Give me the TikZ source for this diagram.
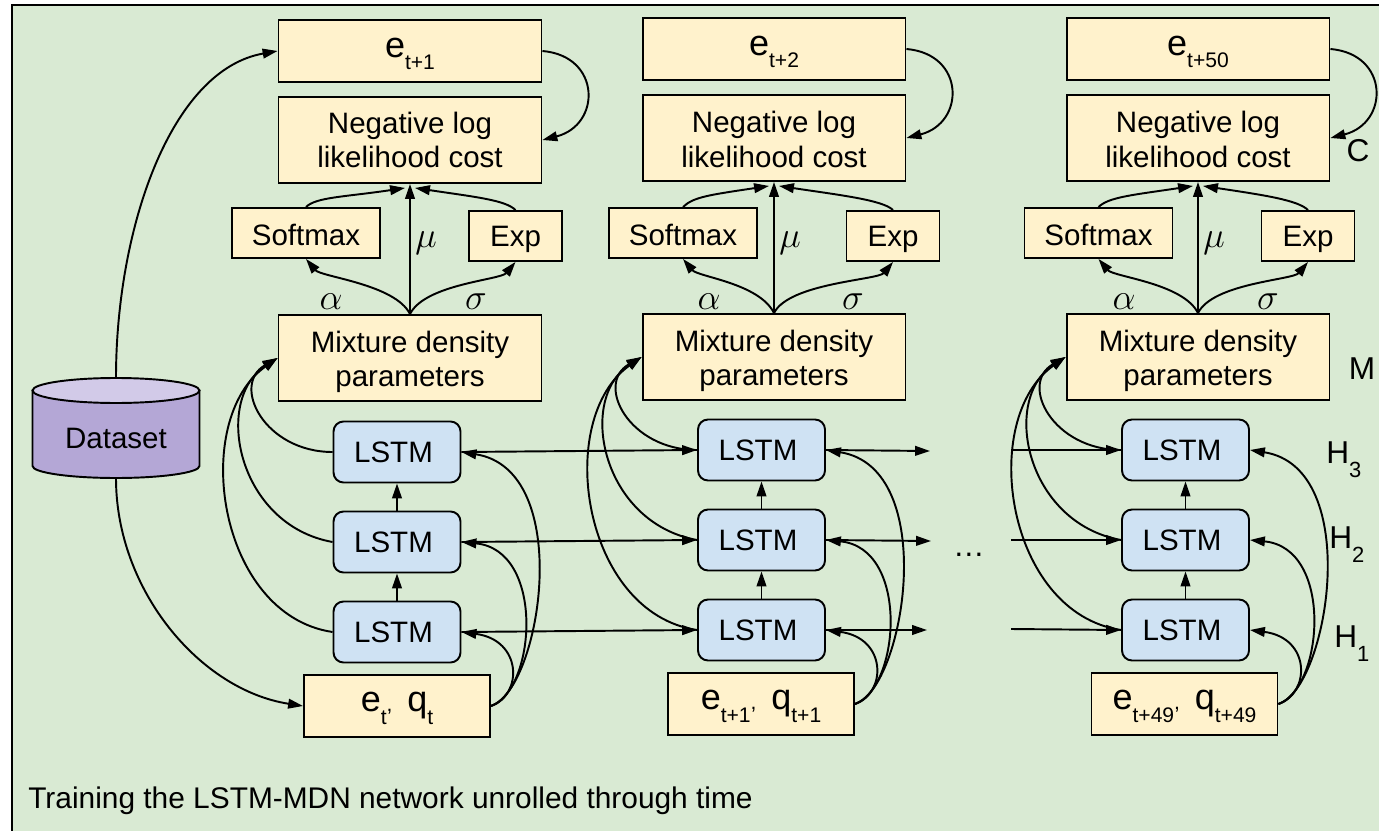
\documentclass[tikz,border=0pt]{standalone}
\usepackage{fontspec}
\setmainfont{Liberation Sans}
\usetikzlibrary{arrows.meta}
\definecolor{panelgreen}{HTML}{D9EAD3}
\definecolor{boxyellow}{HTML}{FFF2CC}
\definecolor{lstmblue}{HTML}{CFE2F3}
\definecolor{dbside}{HTML}{B4A7D6}
\definecolor{dbtop}{HTML}{D2CAE8}
\newcommand{\lab}[2]{{\fontsize{20.5}{24}\selectfont #1\raisebox{-7pt}[0pt][3.5pt]{\fontsize{12}{14}\selectfont #2}}}
\newcommand{\labcomma}{{\fontsize{12}{14}\selectfont ,}\hspace{0.5em}}
\newcommand{\hlab}[1]{{\fontsize{18}{20}\selectfont H\raisebox{-8pt}[0pt][0pt]{\fontsize{12.5}{14}\selectfont #1}}}
\newcommand{\dropline}[1]{\rule{0pt}{#1}}
\newcommand{\lstm}{LSTM\hspace*{4pt}}
\tikzset{
    plainbox/.style={draw=black, line width=1.1pt, fill=boxyellow, inner sep=0pt, align=center, font=\fontsize{16.8}{19.6}\selectfont},
    topbox/.style={plainbox, minimum width=5.26cm, minimum height=1.24cm},
    costbox/.style={plainbox, minimum width=5.26cm, minimum height=1.72cm},
    softbox/.style={plainbox, minimum width=2.96cm, minimum height=1cm},
    expbox/.style={plainbox, minimum width=1.86cm, minimum height=1cm},
    inbox/.style={plainbox, minimum width=3.72cm, minimum height=1.24cm},
    lstmbox/.style={plainbox, fill=lstmblue, rounded corners=0.2cm, minimum width=2.54cm, minimum height=1.22cm},
    sidelabel/.style={inner sep=0pt, font=\fontsize{18}{20}\selectfont},
    greeklabel/.style={inner sep=0pt, font=\fontsize{20}{22}\selectfont},
    flow/.style={line width=1.1pt, -{Triangle[length=8.5pt,width=5.5pt]}}
}
\begin{document}
\begin{tikzpicture}[x=0.02cm,y=-0.02cm]
    \useasboundingbox (0,0) rectangle (1379,831);
    \fill[panelgreen] (12,5) rectangle (1379,831);
    \draw[line width=1.3pt] (12,831) -- (12,5) -- (1379,5);

    \node[minimum width=3.34cm, minimum height=2cm, inner sep=0pt] (db) at (116,428) {};
    \filldraw[fill=dbside, line width=1.1pt] (32.5,390.5) -- (32.5,466) arc[start angle=180, end angle=0, x radius=83.5, y radius=12] -- (199.5,390.5) -- cycle;
    \filldraw[fill=dbtop, line width=1.1pt] (116,390.5) ellipse [x radius=83.5, y radius=12.5];
    \node[inner sep=0pt, font=\fontsize{16.8}{19.6}\selectfont] (dbtext) at (116,438) {Dataset};

    \node[topbox] (targetA) at (410,51) {\lab{e}{t+1}};
    \node[costbox] (costA) at (410,140) {Negative log\\likelihood cost};
    \node[softbox] (softA) at (306,233) {\dropline{14pt}Softmax};
    \node[expbox] (expA) at (515.5,236) {\dropline{15pt}Exp};
    \node[costbox] (mdnA) at (410,358) {\dropline{16.5pt}Mixture density\\parameters};
    \node[lstmbox] (topA) at (397,452) {\lstm};
    \node[lstmbox] (midA) at (397,542) {\lstm};
    \node[lstmbox] (lowA) at (397,632) {\lstm};
    \node[inbox] (inA) at (397,706) {\lab{e}{t}\labcomma\lab{q}{t}};

    \node[topbox] (targetB) at (774,49) {\lab{e}{t+2}};
    \node[costbox] (costB) at (774,138) {\dropline{14pt}Negative log\\likelihood cost};
    \node[softbox] (softB) at (683,233) {\dropline{14pt}Softmax};
    \node[expbox] (expB) at (893,236) {\dropline{15pt}Exp};
    \node[costbox] (mdnB) at (774,357) {\dropline{16.5pt}Mixture density\\parameters};
    \node[lstmbox] (topB) at (761.5,450) {\lstm};
    \node[lstmbox] (midB) at (761.5,540) {\lstm};
    \node[lstmbox] (lowB) at (761.5,630) {\lstm};
    \node[inbox] (inB) at (761,704) {\lab{e}{t+1}\labcomma\lab{q}{t+1}};

    \node[topbox] (targetC) at (1198,49) {\lab{e}{t+50}};
    \node[costbox] (costC) at (1198,138) {\dropline{14pt}Negative log\\likelihood cost};
    \node[softbox] (softC) at (1098.5,233) {\dropline{14pt}Softmax};
    \node[expbox] (expC) at (1308,236) {\dropline{15pt}Exp};
    \node[costbox] (mdnC) at (1198,357) {\dropline{16.5pt}Mixture density\\parameters};
    \node[lstmbox] (topC) at (1185.5,450) {\lstm};
    \node[lstmbox] (midC) at (1185.5,540) {\lstm};
    \node[lstmbox] (lowC) at (1185.5,630) {\lstm};
    \node[inbox] (inC) at (1184.5,704) {\lab{e}{t+49}\labcomma\lab{q}{t+49}};

    \node[greeklabel] (alphaA) at (331,302) {$\alpha$};
    \node[greeklabel] (muA) at (426,243) {$\mu$};
    \node[greeklabel] (sigmaA) at (476,302) {$\sigma$};
    \node[greeklabel] (alphaB) at (709,302) {$\alpha$};
    \node[greeklabel] (muB) at (790,243) {$\mu$};
    \node[greeklabel] (sigmaB) at (853,302) {$\sigma$};
    \node[greeklabel] (alphaC) at (1124,302) {$\alpha$};
    \node[greeklabel] (muC) at (1214,243) {$\mu$};
    \node[greeklabel] (sigmaC) at (1268,302) {$\sigma$};

    \node[sidelabel, anchor=base west] (hthree) at (1326,463) {\hlab{3}};
    \node[sidelabel, anchor=base west] (htwo) at (1329,548) {\hlab{2}};
    \node[sidelabel, anchor=base west] (hone) at (1334,647) {\hlab{1}};
    \node[sidelabel] (mlabel) at (1362,369) {M};
    \node[sidelabel] (clabel) at (1358,151) {C};
    \node[sidelabel] (dots) at (969,555) {…};
    \node[anchor=west, inner sep=0pt, font=\fontsize{17}{19}\selectfont] (caption) at (28,801) {Training the LSTM-MDN network unrolled through time};

    \draw[flow] (db.north) .. controls (116,230) and (170,70) .. (targetA.west);
    \draw[flow] (db.south) .. controls (116,590) and (200,690) .. (inA.west);

    \draw[flow] (targetA.east) .. controls +(59,5) and +(59,-15) .. (costA.east);
    \draw[flow] (softA.north) .. controls +(10,-10) and +(-60,9) .. ([xshift=-0.1cm,yshift=-0.08cm]costA.south);
    \draw[flow] (expA.north) .. controls +(-10,-10) and +(60,9) .. ([xshift=0.1cm,yshift=-0.08cm]costA.south);
    \draw[flow] (mdnA.north) -- (costA.south);
    \draw[flow] (mdnA.north) .. controls +(-15,-30) and +(15,18) .. (softA.south);
    \draw[flow] (mdnA.north) .. controls +(15,-30) and +(-15,18) .. (expA.south);
    \draw[flow] (lowA.north) -- (midA.south);
    \draw[flow] (midA.north) -- (topA.south);
    \draw[flow] (topA.west) .. controls +(-68,0) and +(-47,27) .. (mdnA.west);
    \draw[flow] (midA.west) .. controls +(-95,-17) and +(-65,42) .. (mdnA.west);
    \draw[flow] (lowA.west) .. controls +(-115,-17) and +(-88,62) .. (mdnA.west);
    \draw[flow] (inA.east) .. controls +(32,-11) and +(61,8) .. (lowA.east);
    \draw[flow] (inA.east) .. controls +(45,-16) and +(84,8) .. (midA.east);
    \draw[flow] (inA.east) .. controls +(50,-16) and +(114,18) .. (topA.east);
    \draw[flow] (topA.east) -- (topB.west);
    \draw[flow] (midA.east) -- (midB.west);
    \draw[flow] (lowA.east) -- (lowB.west);

    \draw[flow] (targetB.east) .. controls +(59,5) and +(59,-15) .. (costB.east);
    \draw[flow] (softB.north) .. controls +(10,-10) and +(-60,9) .. ([xshift=-0.1cm,yshift=-0.08cm]costB.south);
    \draw[flow] (expB.north) .. controls +(-10,-10) and +(60,9) .. ([xshift=0.1cm,yshift=-0.08cm]costB.south);
    \draw[flow] (mdnB.north) -- (costB.south);
    \draw[flow] (mdnB.north) .. controls +(-15,-30) and +(15,18) .. (softB.south);
    \draw[flow] (mdnB.north) .. controls +(15,-30) and +(-15,18) .. (expB.south);
    \draw[flow] (lowB.north) -- (midB.south);
    \draw[flow] (midB.north) -- (topB.south);
    \draw[flow] (topB.west) .. controls +(-68,0) and +(-47,27) .. (mdnB.west);
    \draw[flow] (midB.west) .. controls +(-95,-17) and +(-65,42) .. (mdnB.west);
    \draw[flow] (lowB.west) .. controls +(-115,-17) and +(-88,62) .. (mdnB.west);
    \draw[flow] (inB.east) .. controls +(32,-11) and +(61,8) .. (lowB.east);
    \draw[flow] (inB.east) .. controls +(45,-16) and +(84,8) .. (midB.east);
    \draw[flow] (inB.east) .. controls +(50,-16) and +(114,18) .. (topB.east);

    \coordinate (topoutB) at (930,451);
    \coordinate (midoutB) at (931,541);
    \coordinate (lowoutB) at (927,630);
    \coordinate (topinC) at (1011,450);
    \coordinate (midinC) at (1011,540);
    \coordinate (lowinC) at (1011,629);
    \draw[flow] (topB.east) -- (topoutB);
    \draw[flow] (midB.east) -- (midoutB);
    \draw[flow] (lowB.east) -- (lowoutB);
    \draw[flow] (topinC) -- (topC.west);
    \draw[flow] (midinC) -- (midC.west);
    \draw[flow] (lowinC) -- (lowC.west);

    \draw[flow] (targetC.east) .. controls +(59,5) and +(59,-15) .. (costC.east);
    \draw[flow] (softC.north) .. controls +(10,-10) and +(-60,9) .. ([xshift=-0.1cm,yshift=-0.08cm]costC.south);
    \draw[flow] (expC.north) .. controls +(-10,-10) and +(60,9) .. ([xshift=0.1cm,yshift=-0.08cm]costC.south);
    \draw[flow] (mdnC.north) -- (costC.south);
    \draw[flow] (mdnC.north) .. controls +(-15,-30) and +(15,18) .. (softC.south);
    \draw[flow] (mdnC.north) .. controls +(15,-30) and +(-15,18) .. (expC.south);
    \draw[flow] (lowC.north) -- (midC.south);
    \draw[flow] (midC.north) -- (topC.south);
    \draw[flow] (topC.west) .. controls +(-68,0) and +(-47,27) .. (mdnC.west);
    \draw[flow] (midC.west) .. controls +(-95,-17) and +(-65,42) .. (mdnC.west);
    \draw[flow] (lowC.west) .. controls +(-115,-17) and +(-88,62) .. (mdnC.west);
    \draw[flow] (inC.east) .. controls +(32,-11) and +(61,8) .. (lowC.east);
    \draw[flow] (inC.east) .. controls +(45,-16) and +(84,8) .. (midC.east);
    \draw[flow] (inC.east) .. controls +(50,-16) and +(114,18) .. (topC.east);
\end{tikzpicture}
\end{document}
